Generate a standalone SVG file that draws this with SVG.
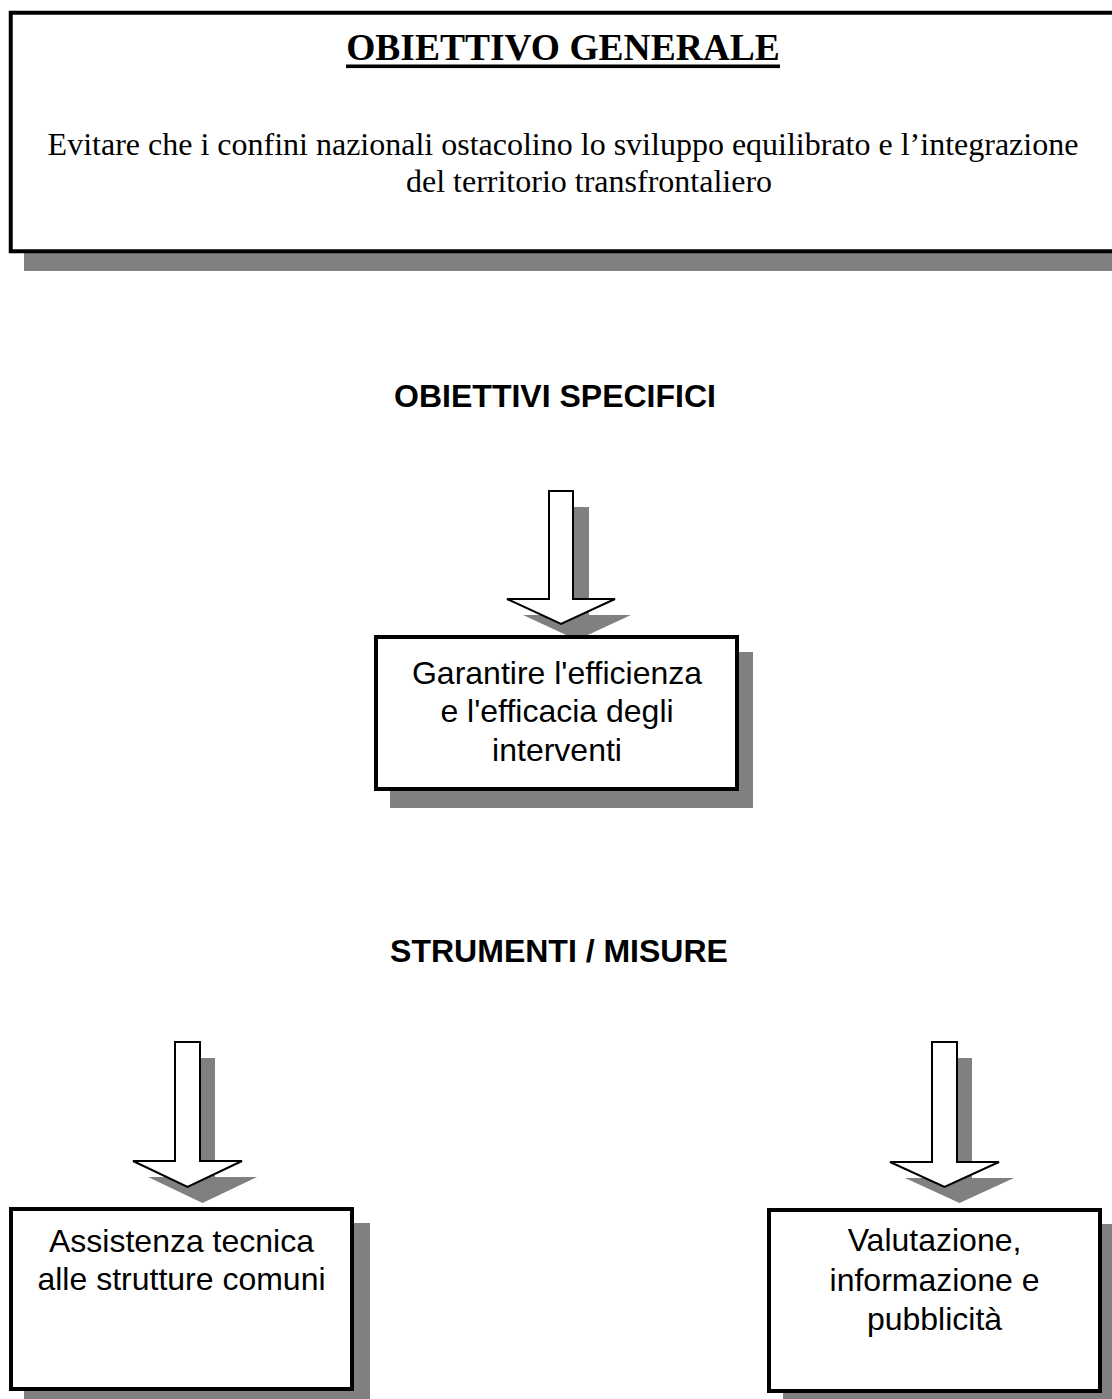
<svg xmlns="http://www.w3.org/2000/svg" width="1112" height="1399" viewBox="0 0 1112 1399">
  <style>
    .shadow { fill: #808080; stroke: none; }
    .box { fill: #ffffff; stroke: #000000; stroke-width: 4; }
    .arrow { fill: #ffffff; stroke: #000000; stroke-width: 2; stroke-linejoin: miter; }
    .serif { font-family: "Liberation Serif", "Times New Roman", serif; fill: #000000; text-anchor: middle; }
    .sans { font-family: "Liberation Sans", Arial, sans-serif; fill: #000000; text-anchor: middle; }
    .title { font-size: 37.5px; font-weight: bold; }
    .lead { font-size: 32px; }
    .head { font-size: 32px; font-weight: bold; }
    .label { font-size: 32px; }
  </style>
  <defs>
    <path id="arrow-mid" d="M549,491 H573 V599 H615 L561,624 L507,599 H549 Z"/>
    <path id="arrow-left" d="M175,1042 H200 V1161 H242 L187.5,1187 L133,1161 H175 Z"/>
    <path id="arrow-right" d="M932,1042 H957 V1162 H999 L944.5,1187 L890,1162 H932 Z"/>
  </defs>

  <rect width="1112" height="1399" fill="#ffffff"/>

  <!-- general objective -->
  <g id="obiettivo-generale">
    <rect class="shadow" x="24" y="27" width="1200" height="244"/>
    <rect class="box" x="10.75" y="12.75" width="1200" height="238.5" stroke-width="3.5"/>
    <text class="serif title" x="563" y="60">OBIETTIVO GENERALE</text>
    <rect x="346" y="64.5" width="434" height="3.6" fill="#000000"/>
    <text class="serif lead" x="563" y="155">Evitare che i confini nazionali ostacolino lo sviluppo equilibrato e l’integrazione</text>
    <text class="serif lead" x="589" y="192">del territorio transfrontaliero</text>
  </g>

  <!-- section headings -->
  <g id="obiettivi-specifici">
    <text class="sans head" x="555" y="407">OBIETTIVI SPECIFICI</text>
  </g>
  <g id="strumenti-misure">
    <text class="sans head" x="559" y="962">STRUMENTI / MISURE</text>
  </g>

  <!-- block arrows -->
  <g id="connectors">
    <use href="#arrow-mid" class="shadow" transform="translate(16,16)"/>
    <use href="#arrow-mid" class="arrow"/>
    <use href="#arrow-left" class="shadow" transform="translate(15,16)"/>
    <use href="#arrow-left" class="arrow"/>
    <use href="#arrow-right" class="shadow" transform="translate(15,16)"/>
    <use href="#arrow-right" class="arrow"/>
  </g>

  <g id="garantire-efficienza">
    <rect class="shadow" x="390" y="652" width="363" height="156"/>
    <rect class="box" x="376" y="637" width="361" height="152"/>
    <text class="sans label" x="557" y="684">Garantire l'efficienza</text>
    <text class="sans label" x="557" y="722">e l'efficacia degli</text>
    <text class="sans label" x="557" y="761">interventi</text>
  </g>

  <g id="assistenza-tecnica">
    <rect class="shadow" x="24" y="1223" width="346" height="184"/>
    <rect class="box" x="11" y="1209" width="341" height="180"/>
    <text class="sans label" x="181.5" y="1252">Assistenza tecnica</text>
    <text class="sans label" x="181.5" y="1290">alle strutture comuni</text>
  </g>

  <g id="valutazione-informazione">
    <rect class="shadow" x="783" y="1224" width="335" height="185"/>
    <rect class="box" x="769" y="1210" width="331" height="181"/>
    <text class="sans label" x="934.5" y="1251">Valutazione,</text>
    <text class="sans label" x="934.5" y="1291">informazione e</text>
    <text class="sans label" x="934.5" y="1330">pubblicità</text>
  </g>
</svg>
